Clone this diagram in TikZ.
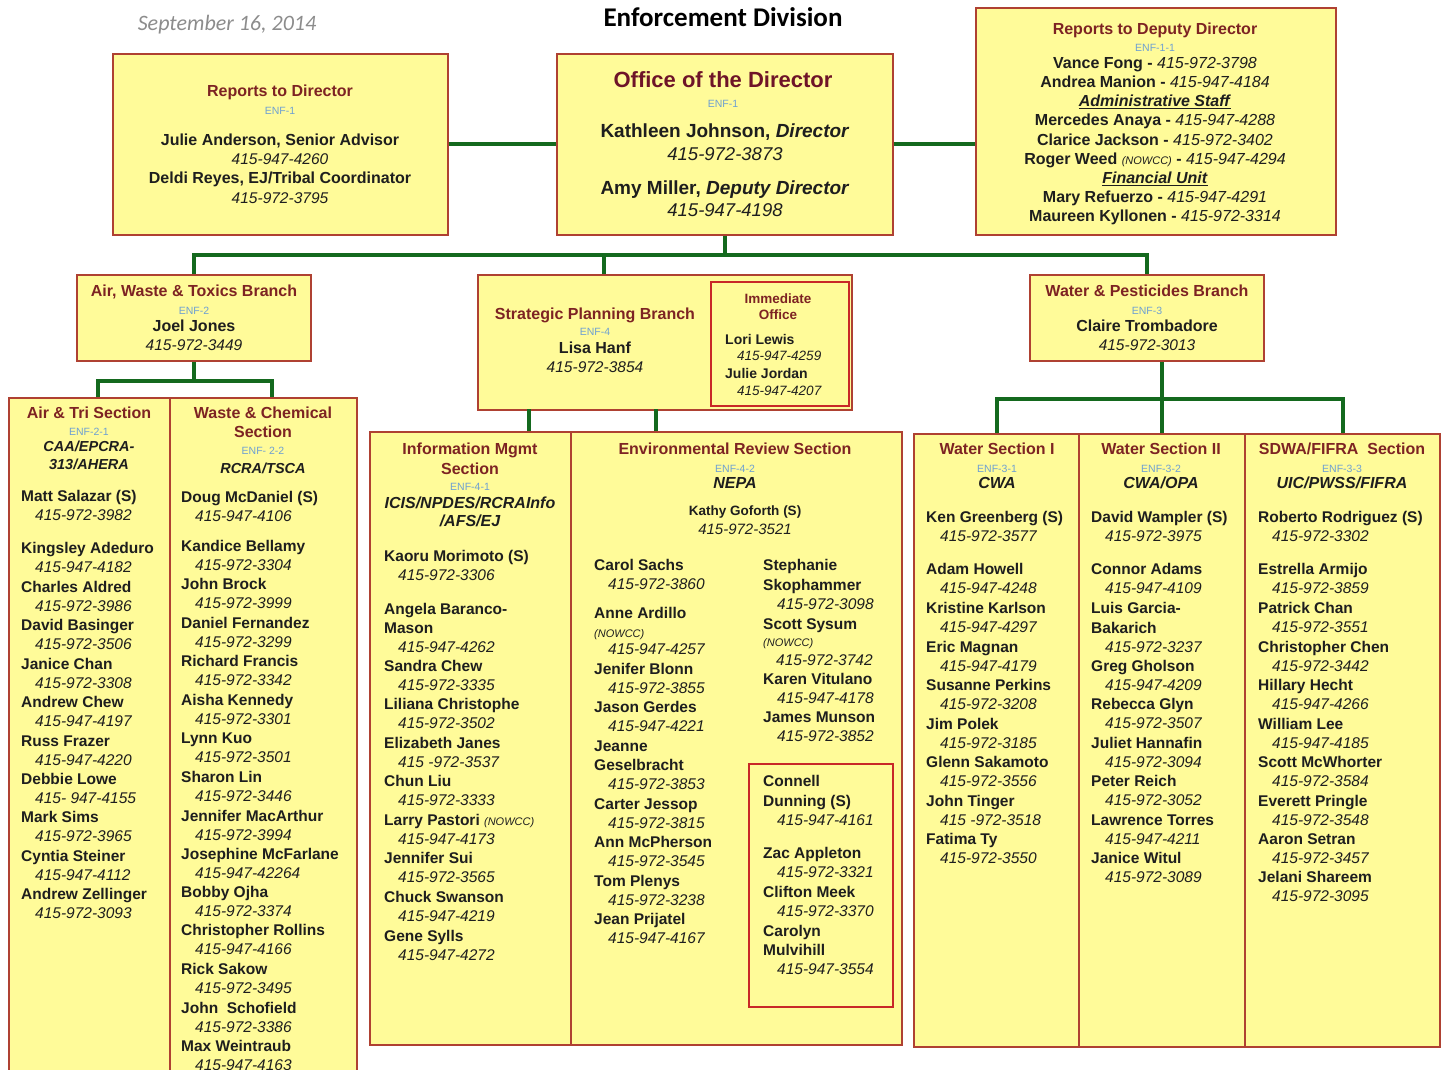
\documentclass[tikz,border=0pt]{standalone}
\usepackage{fontspec}
\setmainfont{Liberation Sans}
\newfontfamily\calfont{Carlito}
\definecolor{boxfill}{RGB}{255,251,153}
\definecolor{boxline}{RGB}{175,65,50}
\definecolor{ired}{RGB}{200,40,40}
\definecolor{titlec}{RGB}{125,35,35}
\definecolor{dirc}{RGB}{110,20,40}
\definecolor{enfblue}{RGB}{110,160,210}
\definecolor{lineg}{RGB}{20,105,30}
\definecolor{dategray}{RGB}{140,140,140}
\definecolor{txt}{RGB}{30,30,30}
\newcounter{tn}
\newcommand\T[3][]{\stepcounter{tn}\node[#1] (t\number\value{tn}) at (#2) {#3};}
\newcommand\NP[4]{\T[nm]{#1,#2}{#3}\T[ph]{#1+14,#2+19}{#4}}
\newcommand\bx[6][box]{\node[#1,minimum width={#5-#3},minimum height={#6-#4}] (#2) at ({(#3+#5)/2},{(#4+#6)/2}) {};}
\newcommand\nw[1]{{\fontsize{11}{12}\selectfont\mdseries\itshape #1}}
\tikzset{
 box/.style={draw=boxline, fill=boxfill, line width=1.3pt, inner sep=0pt},
 ibox/.style={draw=ired, line width=1.3pt, inner sep=0pt},
 conn/.style={draw=lineg, line width=4pt},
 tbase/.style={inner sep=0pt, text height=0.72em, text depth=0.2em, text=txt, yshift=-4pt},
 nm/.style={tbase, anchor=west, font=\fontsize{15.5}{18}\selectfont\bfseries},
 ph/.style={tbase, anchor=west, font=\fontsize{15.5}{18}\selectfont\itshape},
 ttl/.style={tbase, font=\fontsize{16}{18}\selectfont\bfseries, text=titlec},
 enf/.style={tbase, font=\fontsize{10.5}{12}\selectfont, text=enfblue},
 subt/.style={tbase, font=\fontsize{16}{18}\selectfont\bfseries\itshape},
 cnm/.style={tbase, font=\fontsize{16}{18}\selectfont\bfseries},
 cph/.style={tbase, font=\fontsize{15.5}{18}\selectfont\itshape},
 dl/.style={tbase, font=\fontsize{16}{18}\selectfont},
}
\begin{document}
\begin{tikzpicture}[x=1pt,y=-1pt]
\useasboundingbox (0,0) rectangle (1448,1070);
\clip (0,0) rectangle (1448,1070);
\fill[white] (0,0) rectangle (1448,1070);
% boxes
\bx{rd}{113}{54}{448}{235}
\bx{dir}{557}{54}{893}{235}
\bx{rdd}{976}{8}{1336}{235}
\bx{awt}{77}{275}{311}{361}
\bx{spb}{478}{275}{852}{410}
\bx[ibox]{imo}{711}{282}{849}{406}
\bx{wpb}{1030}{275}{1264}{361}
\bx{airtri}{9}{398}{170}{1090}
\bx{wc}{170}{398}{357}{1090}
\bx{im}{370}{432}{571}{1045}
\bx{er}{571}{432}{902}{1045}
\bx[ibox]{cnb}{749}{764}{893}{1007}
\bx{w1}{914}{434}{1079}{1047}
\bx{w2}{1079}{434}{1245}{1047}
\bx{sd}{1245}{434}{1440}{1047}
% connectors
\draw[conn] (rd.east) -- (dir.west);
\draw[conn] (dir.east) -- (dir.east -| rdd.west);
\draw[conn] (dir.south) -- ++(0,21);
\draw[conn] (awt.north) -- ++(0,-19) -| (wpb.north);
\draw[conn] ([xshift=-61pt]spb.north) -- ++(0,-19);
\draw[conn] (awt.south) -- ++(0,19) coordinate (ab);
\draw[conn] ([xshift=8pt]airtri.north) |- (ab) -| ([xshift=8pt]wc.north);
\draw[conn] ([xshift=58pt]im.north) -- ++(0,-22);
\draw[conn] ([xshift=-81pt]er.north) -- ++(0,-22);
\draw[conn] (w2.north) -- (w2.north |- wpb.south);
\draw[conn] (w1.north) -- ++(0,-34) -| (sd.north);
% header
\node[tbase, yshift=-2pt, font=\calfont\fontsize{22}{24}\selectfont\itshape, text=dategray] (date) at (227,22) {September 16, 2014};
\node[tbase, yshift=-3pt, font=\calfont\fontsize{27}{30}\selectfont\bfseries, text=black] (head) at (723,17) {Enforcement Division};
% reports to director
\T[ttl]{280,90}{Reports to Director}
\T[enf]{280,108}{ENF-1}
\T[cnm]{280,139}{Julie Anderson, Senior Advisor}
\T[cph]{280,158}{415-947-4260}
\T[cnm]{280,177}{Deldi Reyes, EJ/Tribal Coordinator}
\T[cph]{280,197}{415-972-3795}
% director
\T[ttl, font=\fontsize{22}{24}\selectfont\bfseries, text=dirc]{723,81}{Office of the Director}
\T[enf]{723,101}{ENF-1}
\T[cnm, font=\fontsize{19}{22}\selectfont\bfseries]{725,131}{Kathleen Johnson, \textit{Director}}
\T[cph, font=\fontsize{18.5}{22}\selectfont\itshape]{725,154}{415-972-3873}
\T[cnm, font=\fontsize{19}{22}\selectfont\bfseries]{725,188}{Amy Miller, \textit{Deputy Director}}
\T[cph, font=\fontsize{18.5}{22}\selectfont\itshape]{725,210}{415-947-4198}
% deputy
\T[ttl]{1155,28}{Reports to Deputy Director}
\T[enf]{1155,45}{ENF-1-1}
\T[dl]{1155,62}{\textbf{Vance Fong - }\textit{415-972-3798}}
\T[dl]{1155,81}{\textbf{Andrea Manion - }\textit{415-947-4184}}
\T[dl]{1155,100}{\underline{\textbf{\textit{Administrative Staff}}}}
\T[dl]{1155,119}{\textbf{Mercedes Anaya - }\textit{415-947-4288}}
\T[dl]{1155,139}{\textbf{Clarice Jackson - }\textit{415-972-3402}}
\T[dl]{1155,158}{\textbf{Roger Weed }\nw{(NOWCC)}\textbf{ - }\textit{415-947-4294}}
\T[dl]{1155,177}{\underline{\textbf{\textit{Financial Unit}}}}
\T[dl]{1155,196}{\textbf{Mary Refuerzo - }\textit{415-947-4291}}
\T[dl]{1155,215}{\textbf{Maureen Kyllonen - }\textit{415-972-3314}}
% branches
\T[ttl]{194,290}{Air, Waste \& Toxics Branch}
\T[enf]{194,308}{ENF-2}
\T[cnm]{194,325}{Joel Jones}
\T[cph]{194,344}{415-972-3449}
\T[ttl]{595,313}{Strategic Planning Branch}
\T[enf]{595,329}{ENF-4}
\T[cnm]{595,347}{Lisa Hanf}
\T[cph]{595,366}{415-972-3854}
\T[ttl, font=\fontsize{13.5}{16}\selectfont\bfseries]{778,297}{Immediate}
\T[ttl, font=\fontsize{13.5}{16}\selectfont\bfseries]{778,313}{Office}
\T[nm, font=\fontsize{14}{16}\selectfont\bfseries]{725,338}{Lori Lewis}
\T[ph, font=\fontsize{13.5}{16}\selectfont\itshape]{737,354}{415-947-4259}
\T[nm, font=\fontsize{14}{16}\selectfont\bfseries]{725,372}{Julie Jordan}
\T[ph, font=\fontsize{13.5}{16}\selectfont\itshape]{737,389}{415-947-4207}
\T[ttl]{1147,290}{Water \& Pesticides Branch}
\T[enf]{1147,308}{ENF-3}
\T[cnm]{1147,325}{Claire Trombadore}
\T[cph]{1147,344}{415-972-3013}
% Air & Tri
\T[ttl]{89,412}{Air \& Tri Section}
\T[enf]{89,429}{ENF-2-1}
\T[subt, font=\fontsize{14.5}{17}\selectfont\bfseries\itshape]{89,445}{CAA/EPCRA-}
\T[subt, font=\fontsize{14.5}{17}\selectfont\bfseries\itshape]{89,463}{313/AHERA}
\NP{21}{495}{Matt Salazar (S)}{415-972-3982}
\NP{21}{547}{Kingsley Adeduro}{415-947-4182}
\NP{21}{586}{Charles Aldred}{415-972-3986}
\NP{21}{624}{David Basinger}{415-972-3506}
\NP{21}{663}{Janice Chan}{415-972-3308}
\NP{21}{701}{Andrew Chew}{415-947-4197}
\NP{21}{740}{Russ Frazer}{415-947-4220}
\NP{21}{778}{Debbie Lowe}{415- 947-4155}
\NP{21}{816}{Mark Sims}{415-972-3965}
\NP{21}{855}{Cyntia Steiner}{415-947-4112}
\NP{21}{893}{Andrew Zellinger}{415-972-3093}
% Waste & Chemical
\T[ttl]{263,412}{Waste \& Chemical}
\T[ttl]{263,431}{Section}
\T[enf]{263,448}{ENF- 2-2}
\T[subt, font=\fontsize{14.5}{17}\selectfont\bfseries\itshape]{263,467}{RCRA/TSCA}
\NP{181}{496}{Doug McDaniel (S)}{415-947-4106}
\NP{181}{545}{Kandice Bellamy}{415-972-3304}
\NP{181}{583}{John Brock}{415-972-3999}
\NP{181}{622}{Daniel Fernandez}{415-972-3299}
\NP{181}{660}{Richard Francis}{415-972-3342}
\NP{181}{699}{Aisha Kennedy}{415-972-3301}
\NP{181}{737}{Lynn Kuo}{415-972-3501}
\NP{181}{776}{Sharon Lin}{415-972-3446}
\NP{181}{815}{Jennifer MacArthur}{415-972-3994}
\NP{181}{853}{Josephine McFarlane}{415-947-42264}
\NP{181}{891}{Bobby Ojha}{415-972-3374}
\NP{181}{929}{Christopher Rollins}{415-947-4166}
\NP{181}{968}{Rick Sakow}{415-972-3495}
\NP{181}{1007}{John \ Schofield}{415-972-3386}
\NP{181}{1045}{Max Weintraub}{415-947-4163}
% Information Mgmt
\T[ttl]{470,448}{Information Mgmt}
\T[ttl]{470,468}{Section}
\T[enf]{470,484}{ENF-4-1}
\T[subt]{470,502}{ICIS/NPDES/RCRAInfo}
\T[subt]{470,520}{/AFS/EJ}
\NP{384}{555}{Kaoru Morimoto (S)}{415-972-3306}
\T[nm]{384,608}{Angela Baranco-}
\NP{384}{627}{Mason}{415-947-4262}
\NP{384}{665}{Sandra Chew}{415-972-3335}
\NP{384}{703}{Liliana Christophe}{415-972-3502}
\NP{384}{742}{Elizabeth Janes}{415 -972-3537}
\NP{384}{780}{Chun Liu}{415-972-3333}
\NP{384}{819}{Larry Pastori \nw{(NOWCC)}}{415-947-4173}
\NP{384}{857}{Jennifer Sui}{415-972-3565}
\NP{384}{896}{Chuck Swanson}{415-947-4219}
\NP{384}{935}{Gene Sylls}{415-947-4272}
% Environmental Review
\T[ttl]{735,448}{Environmental Review Section}
\T[enf]{735,466}{ENF-4-2}
\T[subt]{735,482}{NEPA}
\T[cnm, font=\fontsize{13.5}{16}\selectfont\bfseries]{745,509}{Kathy Goforth (S)}
\T[cph, font=\fontsize{15}{18}\selectfont\itshape]{745,528}{415-972-3521}
\NP{594}{564}{Carol Sachs}{415-972-3860}
\T[nm]{594,612}{Anne Ardillo}
\T[ph, font=\fontsize{11}{12}\selectfont\itshape]{594,631}{(NOWCC)}
\T[ph]{608,648}{415-947-4257}
\NP{594}{668}{Jenifer Blonn}{415-972-3855}
\NP{594}{706}{Jason Gerdes}{415-947-4221}
\T[nm]{594,745}{Jeanne}
\NP{594}{764}{Geselbracht}{415-972-3853}
\NP{594}{803}{Carter Jessop}{415-972-3815}
\NP{594}{841}{Ann McPherson}{415-972-3545}
\NP{594}{880}{Tom Plenys}{415-972-3238}
\NP{594}{918}{Jean Prijatel}{415-947-4167}
\T[nm]{763,564}{Stephanie}
\NP{763}{584}{Skophammer}{415-972-3098}
\T[nm]{763,623}{Scott Sysum}
\T[ph, font=\fontsize{11}{12}\selectfont\itshape]{763,640}{(NOWCC)}
\T[ph]{776,659}{415-972-3742}
\NP{763}{678}{Karen Vitulano}{415-947-4178}
\NP{763}{716}{James Munson}{415-972-3852}
\T[nm]{763,780}{Connell}
\NP{763}{800}{Dunning (S)}{415-947-4161}
\NP{763}{852}{Zac Appleton}{415-972-3321}
\NP{763}{891}{Clifton Meek}{415-972-3370}
\T[nm]{763,930}{Carolyn}
\NP{763}{949}{Mulvihill}{415-947-3554}
% Water I
\T[ttl]{997,448}{Water Section I}
\T[enf]{997,466}{ENF-3-1}
\T[subt]{997,482}{CWA}
\NP{926}{516}{Ken Greenberg (S)}{415-972-3577}
\NP{926}{568}{Adam Howell}{415-947-4248}
\NP{926}{607}{Kristine Karlson}{415-947-4297}
\NP{926}{646}{Eric Magnan}{415-947-4179}
\NP{926}{684}{Susanne Perkins}{415-972-3208}
\NP{926}{723}{Jim Polek}{415-972-3185}
\NP{926}{761}{Glenn Sakamoto}{415-972-3556}
\NP{926}{800}{John Tinger}{415 -972-3518}
\NP{926}{838}{Fatima Ty}{415-972-3550}
% Water II
\T[ttl]{1161,448}{Water Section II}
\T[enf]{1161,466}{ENF-3-2}
\T[subt]{1161,482}{CWA/OPA}
\NP{1091}{516}{David Wampler (S)}{415-972-3975}
\NP{1091}{568}{Connor Adams}{415-947-4109}
\T[nm]{1091,607}{Luis Garcia-}
\NP{1091}{627}{Bakarich}{415-972-3237}
\NP{1091}{665}{Greg Gholson}{415-947-4209}
\NP{1091}{703}{Rebecca Glyn}{415-972-3507}
\NP{1091}{742}{Juliet Hannafin}{415-972-3094}
\NP{1091}{780}{Peter Reich}{415-972-3052}
\NP{1091}{819}{Lawrence Torres}{415-947-4211}
\NP{1091}{857}{Janice Witul}{415-972-3089}
% SDWA
\T[ttl]{1342,448}{SDWA/FIFRA \ Section}
\T[enf]{1342,466}{ENF-3-3}
\T[subt]{1342,482}{UIC/PWSS/FIFRA}
\NP{1258}{516}{Roberto Rodriguez (S)}{415-972-3302}
\NP{1258}{568}{Estrella Armijo}{415-972-3859}
\NP{1258}{607}{Patrick Chan}{415-972-3551}
\NP{1258}{646}{Christopher Chen}{415-972-3442}
\NP{1258}{684}{Hillary Hecht}{415-947-4266}
\NP{1258}{723}{William Lee}{415-947-4185}
\NP{1258}{761}{Scott McWhorter}{415-972-3584}
\NP{1258}{800}{Everett Pringle}{415-972-3548}
\NP{1258}{838}{Aaron Setran}{415-972-3457}
\NP{1258}{876}{Jelani Shareem}{415-972-3095}
\end{tikzpicture}
\end{document}
